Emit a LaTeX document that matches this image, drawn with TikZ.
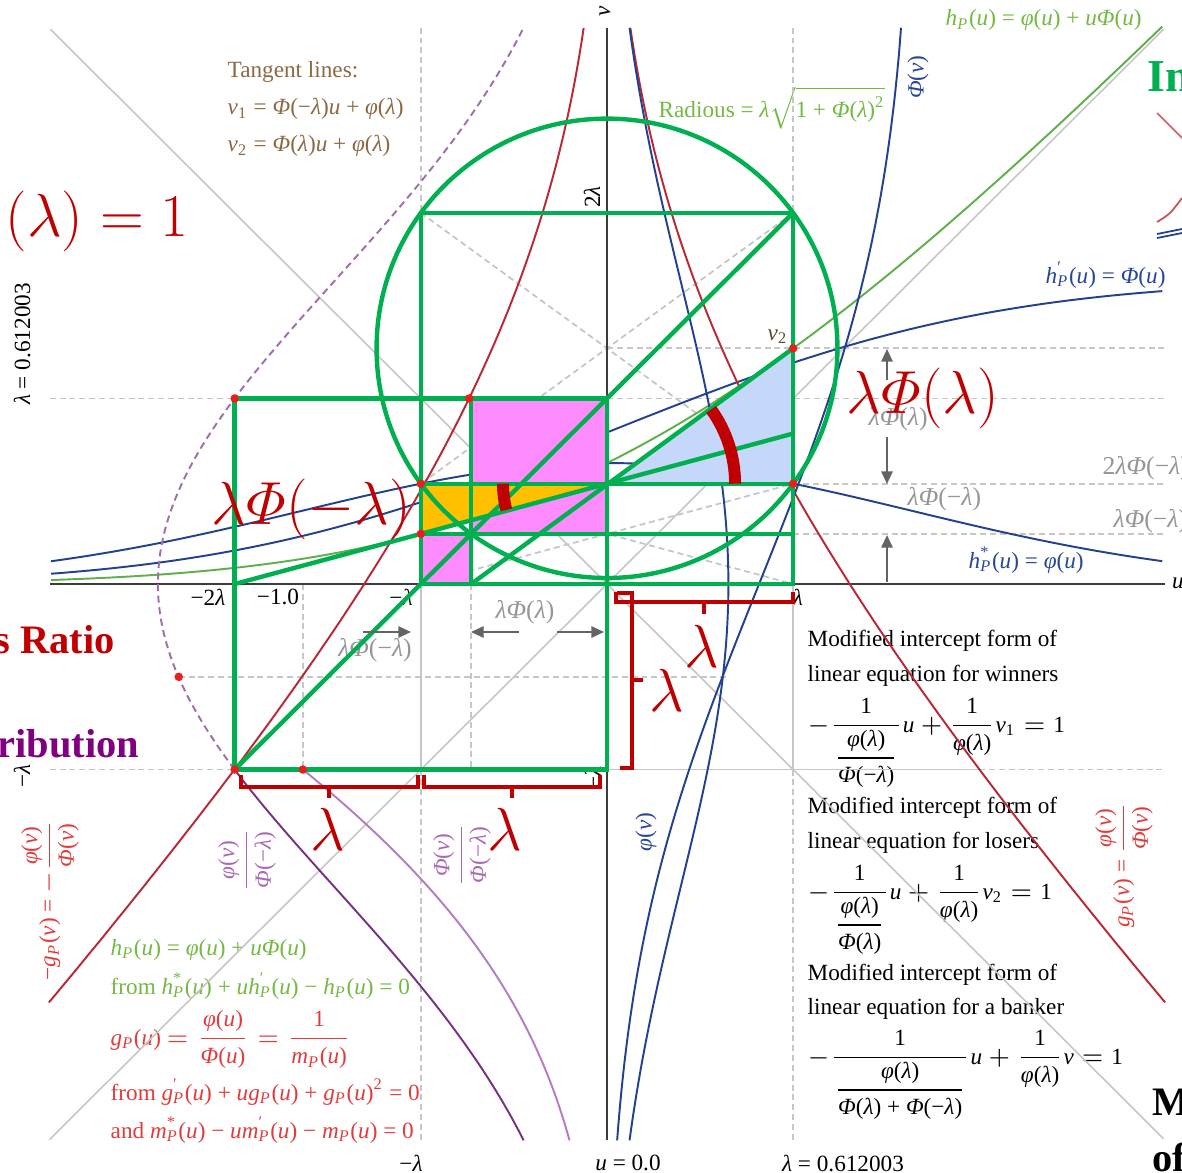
\documentclass[tikz,border=0pt]{standalone}
\usepackage{amsmath}
\usepackage[no-math]{fontspec}
\setmainfont{Liberation Serif}
\usetikzlibrary{arrows.meta}
\newcommand\mt[1]{\textit{#1}}
\newcommand\lamb{\mt{λ}}
\newcommand\Phit{\mt{Φ}}
\newcommand\phit{\mt{φ}}
\newcommand\SP{\textsubscript{\mt{P}}}
\newcommand\SPs[1]{\makebox[0pt][l]{\textsuperscript{#1}}\textsubscript{\mt{P}}}
\newcommand\tx[1]{\text{#1}}
\def\kL{0.612003}
\def\kphi{0.33081}
\def\kLPm{0.16540}
\def\kLPp{0.44660}
\def\kPm{0.27027}
\def\kVtwo{0.77741}
\def\kVone{0.49621}
\def\kCy{0.777408}
\def\kR{0.757627}
\definecolor{gline}{RGB}{0,176,80}
\definecolor{mag}{RGB}{255,140,255}
\definecolor{org}{RGB}{255,192,0}
\definecolor{lblue}{RGB}{198,216,250}
\definecolor{bcurve}{RGB}{35,65,145}
\definecolor{rcurve}{RGB}{185,40,55}
\definecolor{gcurve}{RGB}{95,175,75}
\definecolor{pcurve}{RGB}{120,50,130}
\definecolor{pcurvetwo}{RGB}{180,125,195}
\definecolor{pdash}{RGB}{160,110,170}
\definecolor{gridc}{RGB}{198,198,198}
\definecolor{axisc}{RGB}{60,60,60}
\definecolor{dgray}{RGB}{100,100,100}
\definecolor{lgtxt}{RGB}{150,150,150}
\definecolor{brn}{RGB}{140,105,65}
\definecolor{ltgreen}{RGB}{115,185,65}
\definecolor{rtxt}{RGB}{225,60,60}
\definecolor{ptxt}{RGB}{170,105,180}
\definecolor{btxt}{RGB}{40,70,150}
\definecolor{bigred}{RGB}{192,0,0}
\definecolor{dotc}{RGB}{235,30,30}
\definecolor{purp}{RGB}{128,0,128}
\pgfmathdeclarefunction{npdf}{1}{\pgfmathparse{0.398942*exp(-0.5*(#1)*(#1))}}
\pgfmathdeclarefunction{ncdf}{1}{\pgfmathparse{1/(1+exp(-0.07056*(#1)*(#1)*(#1)-1.5976*(#1)))}}
\tikzset{
  sm/.style={font=\fontsize{6.6}{8}\selectfont, inner sep=0pt},
  graylbl/.style={font=\fontsize{7.3}{9}\selectfont, inner sep=0pt, text=lgtxt},
  bigl/.style={font=\fontsize{17}{20}\selectfont, inner sep=0pt, text=bigred},
  edgelbl/.style={font=\bfseries\fontsize{11.5}{14}\selectfont, inner sep=0pt, anchor=base west},
  sol/.style={draw=gridc, line width=0.45pt},
  dsh/.style={draw=gridc, line width=0.5pt, dash pattern=on 1.7pt off 1.1pt},
  crv/.style={line width=0.55pt},
  greenln/.style={draw=gline, line width=1.25pt},
  dimarr/.style={draw=dgray, line width=0.6pt, -{Triangle[length=3.6pt,width=3.2pt]}},
  brace/.style={draw=bigred, line width=0.9pt},
}
\begin{document}
\begin{tikzpicture}[x=0.01cm,y=-0.01cm]
\useasboundingbox (0,0) rectangle (1182,1173);
\fill[white] (0,0) rectangle (1182,1173);
% ---------- text blocks lying under the lines
\node[sm, anchor=base west, text=brn] (tan0) at (227,78) {Tangent lines:};
\node[sm, anchor=base west, text=brn] (tan1) at (227,115) {\mt{v}\textsubscript{1} = \Phit(−\lamb)\mt{u} + \phit(\lamb)};
\node[sm, anchor=base west, text=brn] (tan2) at (227,152) {\mt{v}\textsubscript{2} = \Phit(\lamb)\mt{u} + \phit(\lamb)};
\node[sm, anchor=base west, text=ltgreen] (rad) at (658,118) {Radious = \lamb$\sqrt{\text{1 + \Phit(\lamb)\textsuperscript{2}}}$};
\node[sm, anchor=base west, text=ltgreen] (hp) at (945,26) {\mt{h}\SP(\mt{u}) = \phit(\mt{u}) + \mt{u}\Phit(\mt{u})};
\node[sm, rotate=90, text=btxt] (phiv) at (918,77) {\Phit(\mt{v})};
\node[sm, anchor=base west, text=btxt] (hpp) at (1045,283) {\mt{h}\SPs{′}(\mt{u}) = \Phit(\mt{u})};
\node[sm, anchor=base west, text=btxt] (hps) at (968,568) {\mt{h}\SPs{*}(\mt{u}) = \phit(\mt{u})};
\node[sm, anchor=base west, text=brn!70!black] (vtwo) at (767,340) {\mt{v}\textsubscript{2}};
% axis labels
\node[sm, rotate=90] (vlab) at (605,11) {\mt{v}};
\node[sm, rotate=90] (twol) at (592,197) {2\lamb};
\node[sm] (ulab) at (1178,583) {\mt{u}};
\node[sm] (tk1) at (208,597) {−2\lamb};
\node[sm] (tk2) at (278,597) {−1.0};
\node[sm] (tk3) at (401,597) {−\lamb};
\node[sm] (tk4) at (798,597) {\lamb};
\node[sm, rotate=90] (lv1) at (22,344) {\lamb{} = 0.612003};
\node[sm, rotate=90] (lv2) at (22,776) {−\lamb};
\node[sm, rotate=90] (lv3) at (593,778) {−\lamb};
\node[sm] (bt1) at (411,1163) {−\lamb};
\node[sm] (bt2) at (628,1163) {\mt{u} = 0.0};
\node[sm] (bt3) at (843,1163) {\lamb{} = 0.612003};
% gray measure labels
\node[graylbl, anchor=base west] (g1) at (868,425) {\lamb\Phit(\lamb)};
\node[graylbl, anchor=base west] (g2) at (1102,474) {2\lamb\Phit(−\lamb)};
\node[graylbl, anchor=base west] (g3) at (907,505) {\lamb\Phit(−\lamb)};
\node[graylbl, anchor=base west] (g4) at (1113,527) {\lamb\Phit(−\lamb)};
\node[graylbl] (g5) at (375,650) {\lamb\Phit(−\lamb)};
\node[graylbl] (g6) at (525,612) {\lamb\Phit(\lamb)};
% right text block
\node[sm, anchor=base west] (w1) at (807,646) {Modified intercept form of};
\node[sm, anchor=base west] (w2) at (807,681) {linear equation for winners};
\node[sm, anchor=base west] (w3) at (807,732) {$-\dfrac{\tx{1}}{\dfrac{\tx{\phit(\lamb)}}{\tx{\Phit(−\lamb)}}}\tx{\mt{u}} + \dfrac{\tx{1}}{\tx{\phit(\lamb)}}\tx{\mt{v}\textsubscript{1}} = \tx{1}$};
\node[sm, anchor=base west] (l1) at (807,813) {Modified intercept form of};
\node[sm, anchor=base west] (l2) at (807,848) {linear equation for losers};
\node[sm, anchor=base west] (l3) at (807,899) {$-\dfrac{\tx{1}}{\dfrac{\tx{\phit(\lamb)}}{\tx{\Phit(\lamb)}}}\tx{\mt{u}} + \dfrac{\tx{1}}{\tx{\phit(\lamb)}}\tx{\mt{v}\textsubscript{2}} = \tx{1}$};
\node[sm, anchor=base west] (k1) at (807,980) {Modified intercept form of};
\node[sm, anchor=base west] (k2) at (807,1014) {linear equation for a banker};
\node[sm, anchor=base west] (k3) at (807,1064) {$-\dfrac{\tx{1}}{\dfrac{\tx{\phit(\lamb)}}{\tx{\Phit(\lamb) + \Phit(−\lamb)}}}\tx{\mt{u}} + \dfrac{\tx{1}}{\tx{\phit(\lamb)}}\tx{\mt{v}} = \tx{1}$};
% bottom left block
\node[sm, anchor=base west, text=ltgreen] (b1) at (110,955) {\mt{h}\SP(\mt{u}) = \phit(\mt{u}) + \mt{u}\Phit(\mt{u})};
\node[sm, anchor=base west, text=ltgreen] (b2) at (110,994) {from \mt{h}\SPs{*}(\mt{u}) + \mt{u}\mt{h}\SPs{′}(\mt{u}) − \mt{h}\SP(\mt{u}) = 0};
\node[sm, anchor=base west, text=rtxt] (b3) at (110,1045) {\mt{g}\SP(\mt{u}) $= \dfrac{\tx{\phit(\mt{u})}}{\tx{\Phit(\mt{u})}} = \dfrac{\tx{1}}{\tx{\mt{m}\SP(\mt{u})}}$};
\node[sm, anchor=base west, text=rtxt] (b4) at (110,1100) {from \mt{g}\SPs{′}(\mt{u}) + \mt{u}\mt{g}\SP(\mt{u}) + \mt{g}\SP(\mt{u})\textsuperscript{2} = 0};
\node[sm, anchor=base west, text=rtxt] (b5) at (110,1138) {and \mt{m}\SPs{*}(\mt{u}) − \mt{u}\mt{m}\SPs{′}(\mt{u}) − \mt{m}\SP(\mt{u}) = 0};
% rotated curve labels
\node[sm, rotate=90, text=rtxt] (rl1) at (50,900) {−\mt{g}\SP(\mt{v}) = $-\dfrac{\tx{\phit(\mt{v})}}{\tx{\Phit(\mt{v})}}$};
\node[sm, rotate=90, text=ptxt] (pl1) at (247,860) {$\dfrac{\tx{\phit(\mt{v})}}{\tx{\Phit(−\lamb)}}$};
\node[sm, rotate=90, text=ptxt] (pl2) at (462,855) {$\dfrac{\tx{\Phit(\mt{v})}}{\tx{\Phit(−\lamb)}}$};
\node[sm, rotate=90, text=btxt] (bl1) at (646,832) {\phit(\mt{v})};
\node[sm, rotate=90, text=rtxt] (rl2) at (1124,865) {\mt{g}\SP(\mt{v}) = $\dfrac{\tx{\phit(\mt{v})}}{\tx{\Phit(\mt{v})}}$};
% ---------- plot in (u,v) coordinates
\begin{scope}[shift={(607,584)},x=3.04cm,y=3.03cm]
  \draw[sol] (-1.83,1.83) -- (1.83,-1.83);
  \draw[sol] (-1.833,-1.833) -- (1.83,1.83);
  \draw[sol] (-2*\kL,-\kL) -- (1.2236,-\kL);
  \draw[sol] (-\kL,0) -- (-\kL,-\kL);
  \draw[sol] (\kL,0) -- (\kL,-\kL);
  \draw[dsh] (-1.832,\kL) -- (-2*\kL,\kL);
  \draw[dsh] (0,\kL) -- (1.836,\kL);
  \draw[dsh] (-1.832,-\kL) -- (-2*\kL,-\kL);
  \draw[dsh] (1.2236,-\kL) -- (1.836,-\kL);
  \draw[dsh] (0,\kVtwo) -- (1.836,\kVtwo);
  \draw[dsh] (\kL,\kphi) -- (1.836,\kphi);
  \draw[dsh] (\kL,\kLPm) -- (1.836,\kLPm);
  \draw[dsh] (-1.408,-0.306) -- (0.395,-0.306);
  \draw[dsh] (-\kL,1.835) -- (-\kL,2*\kL);
  \draw[dsh] (\kL,1.835) -- (\kL,2*\kL);
  \draw[dsh] (-\kL,-\kL) -- (-\kL,-1.835);
  \draw[dsh] (\kL,-\kL) -- (\kL,-1.835);
  \draw[dsh] (-1,0) -- (-1,-\kL);
  \draw[dsh] (-\kLPp,0) -- (-\kLPp,-\kL);
  \draw[dsh] (-\kL,2*\kL) -- (\kL,\kphi);
  \draw[dsh] (\kL,2*\kL) -- (-\kL,\kphi);
  \draw[dsh] (-\kL,0) -- (\kL,\kphi);
  \draw[dsh] (-\kL,\kphi) -- (\kL,0);
  % axes
  \draw[axisc, line width=0.6pt] (-1.832,0) -- (1.836,0);
  \draw[axisc, line width=0.6pt] (0,-1.835) -- (0,1.835);
  % curves
  \draw[bcurve, crv] plot[domain=-1.828:1.826, samples=120, smooth] (\x,{npdf(\x)});
  \draw[bcurve, crv] plot[domain=-1.828:1.826, samples=120, smooth] (\x,{ncdf(\x)});
  \draw[gcurve, crv] plot[domain=-1.828:1.826, samples=120, smooth] (\x,{npdf(\x)+\x*ncdf(\x)});
  \draw[rcurve, crv] plot[domain=-1.38:1.835, samples=120, smooth] ({-npdf(\x)/ncdf(\x)},\x);
  \draw[rcurve, crv] plot[domain=-1.38:1.835, samples=120, smooth] ({npdf(\x)/ncdf(\x)},\x);
  \draw[bcurve, crv] plot[domain=-1.835:1.835, samples=120, smooth] ({npdf(\x)},\x);
  \draw[bcurve, crv] plot[domain=-1.835:1.835, samples=120, smooth] ({ncdf(\x)},\x);
  \draw[pdash, crv, dash pattern=on 2pt off 1.3pt] plot[domain=-\kL:1.835, samples=100, smooth] ({-npdf(\x)/\kPm},\x);
  \draw[pcurve, crv] plot[domain=-1.835:-\kL, samples=80, smooth] ({-npdf(\x)/\kPm},\x);
  \draw[pcurvetwo, crv] plot[domain=-1.835:-\kL, samples=80, smooth] ({-ncdf(\x)/\kPm},\x);
  % filled regions
  \fill[mag] (-\kLPp,\kLPm) rectangle (0,\kL);
  \fill[mag] (-\kL,0) rectangle (-\kLPp,\kLPm);
  \fill[org] (-\kL,\kphi) -- (0,\kphi) -- (-\kL,\kLPm) -- cycle;
  \fill[lblue] (0,\kphi) -- (\kL,\kVtwo) -- (\kL,\kphi) -- cycle;
  % green construction
  \draw[greenln] (-2*\kL,-\kL) rectangle (0,\kL);
  \draw[greenln] (-\kL,0) rectangle (\kL,2*\kL);
  \draw[greenln] (-2*\kL,-\kL) -- (\kL,2*\kL);
  \draw[greenln] (-\kL,\kphi) -- (\kL,\kphi);
  \draw[greenln] (-\kL,\kLPm) -- (\kL,\kLPm);
  \draw[greenln] (-\kLPp,0) -- (-\kLPp,\kL);
  \draw[greenln] (-2*\kL,0) -- (\kL,\kVone);
  \draw[greenln] (-\kLPp,0) -- (\kL,\kVtwo);
  \draw[greenln] (0,\kCy) circle[radius=\kR];
  % angle arcs
  \draw[bigred, line width=3.4pt] (0.421,\kphi) arc[start angle=0, end angle=35.6, radius=0.421];
  \draw[bigred, line width=3.4pt] (-0.342,\kphi) arc[start angle=180, end angle=194.6, radius=0.342];
  % red points
  \foreach \p in {(-2*\kL,\kL),(-0.4533,\kL),(-1.408,-0.306),(-2*\kL,-\kL),(-1,-\kL),(-\kL,\kphi),(-\kL,\kLPm),(\kL,\kVtwo),(\kL,\kphi)}
    \fill[dotc] \p circle[radius=0.014];
\end{scope}
% ---------- braces
\draw[brace] (616,592) -- (616,602) -- (793,602) -- (793,592);
\draw[brace] (704,602) -- (704,614);
\draw[brace] (617,593) -- (632,593) -- (632,768) -- (620,768);
\draw[brace] (632,680) -- (643,680);
\draw[brace] (241,775) -- (241,787) -- (418,787) -- (418,775);
\draw[brace] (329,787) -- (329,798);
\draw[brace] (424,775) -- (424,787) -- (600,787) -- (600,775);
\draw[brace] (512,787) -- (512,798);
% ---------- measure arrows
\coordinate (a1s) at (887,380); \coordinate (a1e) at (887,349);
\coordinate (a2s) at (887,437); \coordinate (a2e) at (887,484);
\coordinate (a3s) at (887,582); \coordinate (a3e) at (887,535);
\coordinate (a4s) at (363,632); \coordinate (a4e) at (411,632);
\coordinate (a5s) at (519,632); \coordinate (a5e) at (471,632);
\coordinate (a6s) at (557,632); \coordinate (a6e) at (604,632);
\draw[dimarr] (a1s) -- (a1e);
\draw[dimarr] (a2s) -- (a2e);
\draw[dimarr] (a3s) -- (a3e);
\draw[dimarr] (a4s) -- (a4e);
\draw[dimarr] (a5s) -- (a5e);
\draw[dimarr] (a6s) -- (a6e);
% ---------- fragments at right border
\draw[rcurve!70, line width=0.5pt] (1157,113) -- (1182,138);
\draw[rcurve!80, line width=0.5pt] (1157,222) .. controls (1170,214) .. (1182,198);
\draw[bcurve, line width=0.5pt] (1157,234) -- (1182,229);
\draw[bcurve, line width=0.5pt] (1157,238) -- (1182,233);
% ---------- big labels
\node[bigl, anchor=base west] (bigA) at (846,413) {$\lambda\varPhi(\lambda)$};
\node[bigl, anchor=base west] (bigB) at (211,524) {$\lambda\varPhi(-\lambda)$};
\node[bigl, anchor=base west] (bigC) at (5,236) {$(\lambda) = 1$};
\node[bigl] (lam1) at (328,829) {$\lambda$};
\node[bigl] (lam2) at (505,829) {$\lambda$};
\node[bigl] (lam3) at (702,646) {$\lambda$};
\node[bigl] (lam4) at (667,690) {$\lambda$};
\node[edgelbl, text=bigred] (eA) at (-6,653) {s Ratio};
\node[edgelbl, text=purp] (eB) at (-3,757) {ribution};
\node[edgelbl, text=gline, font=\bfseries\fontsize{13}{15}\selectfont] (eC) at (1147,92) {In};
\node[edgelbl, text=black] (eD) at (1152,1115) {M};
\node[edgelbl, text=black] (eE) at (1152,1171) {of};
\end{tikzpicture}
\end{document}
